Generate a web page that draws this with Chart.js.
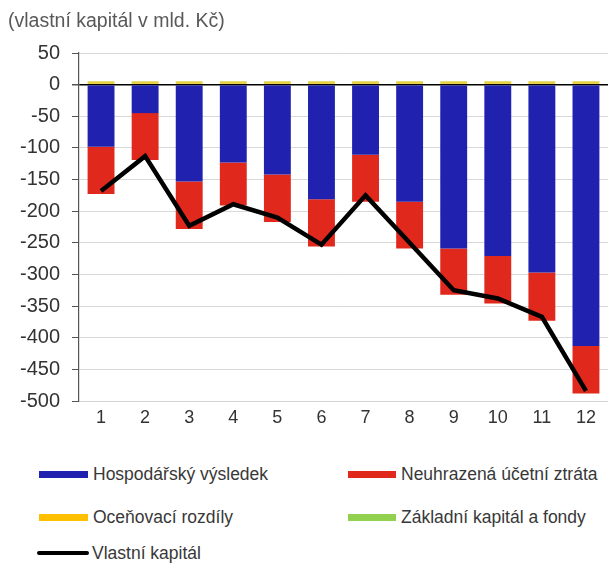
<!DOCTYPE html>
<html>
<head>
<meta charset="utf-8">
<script src="https://cdn.jsdelivr.net/npm/chart.js@4/dist/chart.umd.min.js"></script>
<style>
  html, body { margin: 0; padding: 0; background: #fff; }
  #wrap { position: relative; width: 608px; height: 563px; font-family: "Liberation Sans", Arial, sans-serif; overflow: hidden; }
  #title { position: absolute; left: 8px; top: 9px; font-size: 19.5px; color: #595959; white-space: nowrap; }
  #cv { position: absolute; left: 0; top: 0; }
  .lg { position: absolute; font-size: 17.5px; color: #383838; white-space: nowrap; display: flex; align-items: center; height: 22px; }
  .sw { display: inline-block; margin-right: 5px; }
</style>
</head>
<body>
<div id="wrap">
  <canvas id="cv" width="608" height="432"></canvas>
  <div id="title">(vlastní kapitál v mld. Kč)</div>
  <div id="legend"></div>
</div>
<script>
const categories = ['1','2','3','4','5','6','7','8','9','10','11','12'];
const hospodarskyVysledek = [-98, -45, -153, -123, -142, -181, -111, -185, -259, -271, -297, -413];
const neuhrazenaZtrata   = [-75, -74, -75, -68, -75, -75, -74, -74, -73, -75, -76, -75];
const ocenovaciRozdily   = [5, 5, 5, 5, 5, 5, 5, 5, 5, 5, 5, 5];
const zakladniKapital    = [0.5, 0.5, 0.5, 0.5, 0.5, 0.5, 0.5, 0.5, 0.5, 0.5, 0.5, 0.5];
const vlastniKapital     = [-168, -113, -223, -189, -210, -253, -175, -250, -325, -338, -367, -484];
const yTicks = [50, 0, -50, -100, -150, -200, -250, -300, -350, -400, -450, -500];
const seriesNames = ['Hospodářský výsledek', 'Neuhrazená účetní ztráta', 'Oceňovací rozdíly', 'Základní kapitál a fondy', 'Vlastní kapitál'];

const COLORS = ['#2121b0', '#e0281c', '#ffc000', '#92d050', '#000000'];
const BAR_TOP_YELLOW = '#e8cf3a';

const font = "'Liberation Sans', Arial, sans-serif";

const chart = new Chart(document.getElementById('cv'), {
  data: {
    labels: categories,
    datasets: [
      { type: 'bar', label: seriesNames[0], data: hospodarskyVysledek, backgroundColor: COLORS[0], stack: 'b', order: 1 },
      { type: 'bar', label: seriesNames[1], data: neuhrazenaZtrata, backgroundColor: COLORS[1], stack: 'b', order: 1 },
      { type: 'bar', label: seriesNames[2], data: ocenovaciRozdily, backgroundColor: BAR_TOP_YELLOW, stack: 'b', order: 1 },
      { type: 'bar', label: seriesNames[3], data: zakladniKapital, backgroundColor: COLORS[3], stack: 'b', order: 1 },
      { type: 'line', label: seriesNames[4], data: vlastniKapital, borderColor: COLORS[4], borderWidth: 4.5,
        pointRadius: 0, tension: 0, fill: false, stack: 'l', order: 0, borderJoinStyle: 'miter' }
    ]
  },
  options: {
    responsive: false,
    animation: false,
    devicePixelRatio: 1,
    layout: { padding: { top: 53, right: 0, bottom: 0, left: 0 } },
    plugins: { legend: { display: false }, tooltip: { enabled: false }, title: { display: false } },
    datasets: { bar: { barPercentage: 0.61, categoryPercentage: 1.0 } },
    scales: {
      x: {
        stacked: true,
        grid: { display: false, drawTicks: false },
        border: { display: true, color: '#d4d4d4', width: 1 },
        ticks: { color: '#333', font: { family: font, size: 18 }, padding: 6 },
        afterFit: (s) => { s.height = 31; }
      },
      y: {
        stacked: true,
        min: -500, max: 50,
        afterBuildTicks: (s) => { s.ticks = yTicks.map(v => ({ value: v })); },
        grid: {
          color: (ctx) => (ctx.tick && ctx.tick.value === 0) ? '#000000' : '#d9d9d9',
          lineWidth: (ctx) => (ctx.tick && ctx.tick.value === 0) ? 1.5 : 1,
          tickColor: '#555', tickLength: 7, drawTicks: true
        },
        border: { display: true, color: '#555', width: 1.2 },
        ticks: { color: '#333', font: { family: font, size: 20 }, padding: 12 },
        afterFit: (s) => { s.width = 79; }
      }
    }
  }
});

// HTML legend built from series names and colours
const legendPos = [
  { left: 39, top: 463, sw: 49, h: 7 },
  { left: 348, top: 463, sw: 48, h: 7 },
  { left: 39, top: 506, sw: 49, h: 7 },
  { left: 348, top: 506, sw: 48, h: 7 },
  { left: 37, top: 542, sw: 52, h: 4 }
];
const lg = document.getElementById('legend');
seriesNames.forEach((name, i) => {
  const p = legendPos[i];
  const d = document.createElement('div');
  d.className = 'lg';
  d.style.left = p.left + 'px';
  d.style.top = p.top + 'px';
  const s = document.createElement('span');
  s.className = 'sw';
  s.style.width = p.sw + 'px';
  s.style.height = p.h + 'px';
  s.style.background = COLORS[i];
  if (i === 4) { s.style.borderRadius = '2px'; s.style.marginRight = '3px'; }
  d.appendChild(s);
  const t = document.createElement('span');
  t.textContent = name;
  d.appendChild(t);
  lg.appendChild(d);
});
</script>
</body>
</html>
